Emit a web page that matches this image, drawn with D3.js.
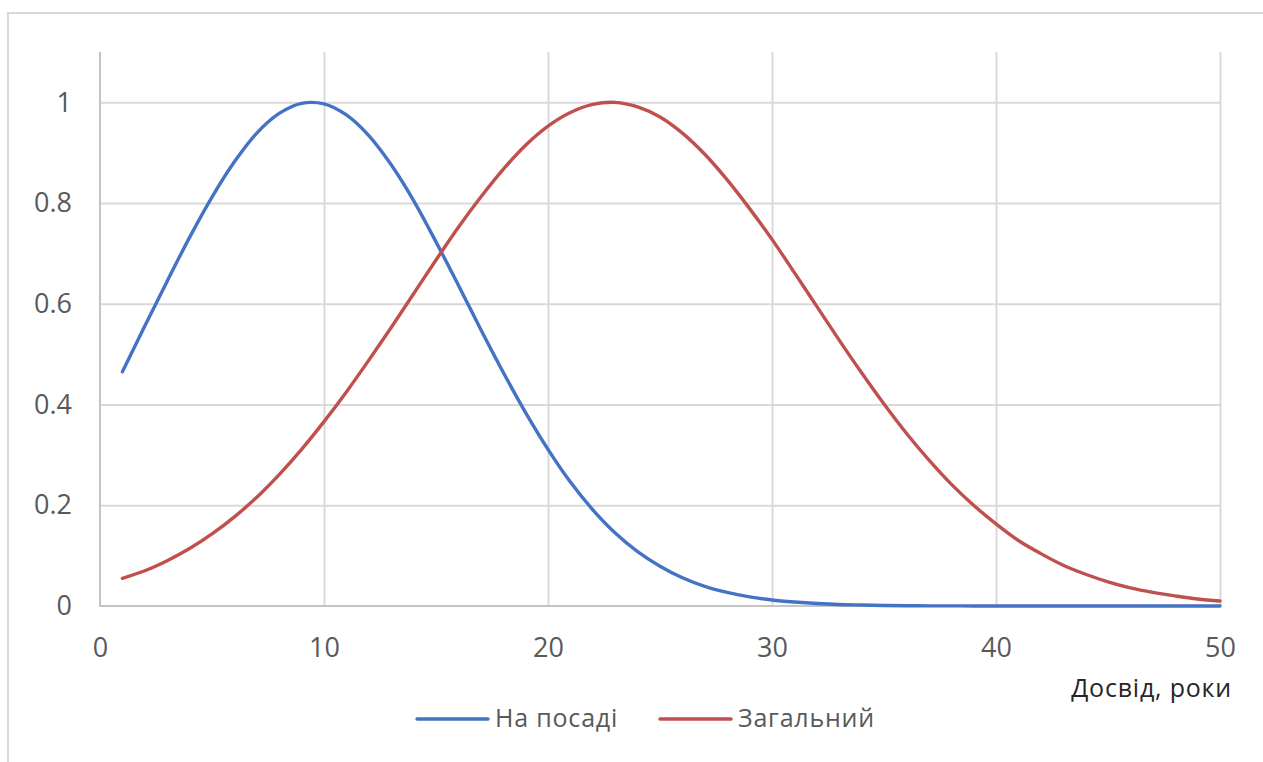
<!DOCTYPE html>
<html>
<head>
<meta charset="utf-8">
<script src="https://cdn.jsdelivr.net/npm/d3@7"></script>
<style>
  html, body { margin: 0; padding: 0; background: #fff; }
  svg { display: block; font-family: "Open Sans", "Noto Sans", sans-serif; }
</style>
</head>
<body>
<svg id="chart" width="1263" height="762"></svg>
<script>
// Experience in years (x values)
const years = d3.range(1, 51);

// Relative density: experience in current position
const onPosition = [
  0.465, 0.556, 0.645, 0.732, 0.812, 0.882, 0.939, 0.978, 0.998, 0.997,
  0.975, 0.934, 0.876, 0.805, 0.723, 0.637, 0.549, 0.464, 0.384, 0.311,
  0.246, 0.191, 0.145, 0.108, 0.079, 0.056, 0.039, 0.027, 0.018, 0.012,
  0.008, 0.005, 0.003, 0.002, 0.001, 0.0005, 0.0003, 0.0002, 0.0001, 0,
  0, 0, 0, 0, 0, 0, 0, 0, 0, 0
];

// Relative density: total experience
const overall = [
  0.055, 0.070, 0.090, 0.114, 0.143, 0.177, 0.216, 0.261, 0.311, 0.366,
  0.425, 0.488, 0.553, 0.620, 0.687, 0.752, 0.812, 0.867, 0.915, 0.953,
  0.980, 0.996, 1.000, 0.991, 0.971, 0.939, 0.897, 0.846, 0.789, 0.728,
  0.662, 0.595, 0.528, 0.463, 0.401, 0.343, 0.290, 0.242, 0.200, 0.163,
  0.130, 0.104, 0.081, 0.063, 0.048, 0.036, 0.027, 0.020, 0.014, 0.010
];

const xTicks = [0, 10, 20, 30, 40, 50];
const yTicks = [0, 0.2, 0.4, 0.6, 0.8, 1];
const xTitle = "Досвід, роки";
const seriesNames = ["На посаді", "Загальний"];
const seriesColors = ["#4472C4", "#C0504D"];

const svg = d3.select("#chart");
const W = 1263, H = 762;
const plot = { left: 100, right: 1220, top: 52, bottom: 606 };

// Outer chart frame (only top and left edges fall inside the view)
svg.append("rect").attr("width", W).attr("height", H).attr("fill", "#fff");
svg.append("path")
  .attr("d", `M8,${H + 5} L8,13 L${W + 5},13`)
  .attr("fill", "none").attr("stroke", "#d9d9d9").attr("stroke-width", 2);

const x = d3.scaleLinear().domain([0, 50]).range([plot.left, plot.right]);
const y = d3.scaleLinear().domain([0, 1.1]).range([plot.bottom, plot.top]);

// Horizontal gridlines
svg.append("g")
  .attr("transform", `translate(${plot.left},0)`)
  .call(d3.axisLeft(y).tickValues(yTicks.filter(d => d > 0))
    .tickSize(-(plot.right - plot.left)).tickFormat(""))
  .call(g => g.select(".domain").remove())
  .call(g => g.selectAll("line").attr("stroke", "#d9d9d9").attr("stroke-width", 2));

// Vertical gridlines
svg.append("g")
  .attr("transform", `translate(0,${plot.bottom})`)
  .call(d3.axisBottom(x).tickValues(xTicks.filter(d => d > 0))
    .tickSize(-(plot.bottom - plot.top)).tickFormat(""))
  .call(g => g.select(".domain").remove())
  .call(g => g.selectAll("line").attr("stroke", "#d9d9d9").attr("stroke-width", 2));

// Axis lines
svg.append("line")
  .attr("x1", plot.left).attr("x2", plot.left)
  .attr("y1", plot.top).attr("y2", plot.bottom + 1)
  .attr("stroke", "#c4c4c4").attr("stroke-width", 2);
svg.append("line")
  .attr("x1", plot.left - 1).attr("x2", plot.right)
  .attr("y1", plot.bottom).attr("y2", plot.bottom)
  .attr("stroke", "#c4c4c4").attr("stroke-width", 2);

// Y tick labels
svg.append("g")
  .attr("transform", `translate(${plot.left},0)`)
  .call(d3.axisLeft(y).tickValues(yTicks).tickSize(0).tickPadding(28)
    .tickFormat(d => d === 0 ? "0" : d === 1 ? "1" : d3.format(".1f")(d)))
  .call(g => g.select(".domain").remove())
  .call(g => g.selectAll("text")
    .attr("font-family", "'Open Sans', sans-serif")
    .attr("font-size", 27).attr("fill", "#595959"));

// X tick labels
svg.append("g")
  .attr("transform", `translate(0,${plot.bottom})`)
  .call(d3.axisBottom(x).tickValues(xTicks).tickSize(0).tickPadding(32))
  .call(g => g.select(".domain").remove())
  .call(g => g.selectAll("text")
    .attr("font-family", "'Open Sans', sans-serif")
    .attr("font-size", 27).attr("fill", "#595959"));

// X axis title
svg.append("text")
  .attr("x", 1232).attr("y", 697)
  .attr("text-anchor", "end")
  .attr("font-size", 25).attr("letter-spacing", 0.8).attr("fill", "#262626")
  .text(xTitle);

// Series lines
const line = d3.line()
  .x((d, i) => x(years[i]))
  .y(d => y(d))
  .curve(d3.curveCatmullRom.alpha(0.5));

[onPosition, overall].forEach((vals, k) => {
  svg.append("path")
    .datum(vals)
    .attr("d", line)
    .attr("fill", "none")
    .attr("stroke", seriesColors[k])
    .attr("stroke-width", 3.4)
    .attr("stroke-linecap", "round")
    .attr("stroke-linejoin", "round");
});

// Legend
const legendItems = [
  { x0: 417, name: seriesNames[0], color: seriesColors[0] },
  { x0: 660, name: seriesNames[1], color: seriesColors[1] }
];
const lg = svg.append("g").attr("transform", "translate(0,719)");
legendItems.forEach(it => {
  lg.append("line")
    .attr("x1", it.x0).attr("x2", it.x0 + 71)
    .attr("stroke", it.color).attr("stroke-width", 3.4)
    .attr("stroke-linecap", "round");
  lg.append("text")
    .attr("x", it.x0 + 78).attr("y", 8)
    .attr("font-size", 25).attr("letter-spacing", 0.8).attr("fill", "#595959")
    .text(it.name);
});
</script>
</body>
</html>
